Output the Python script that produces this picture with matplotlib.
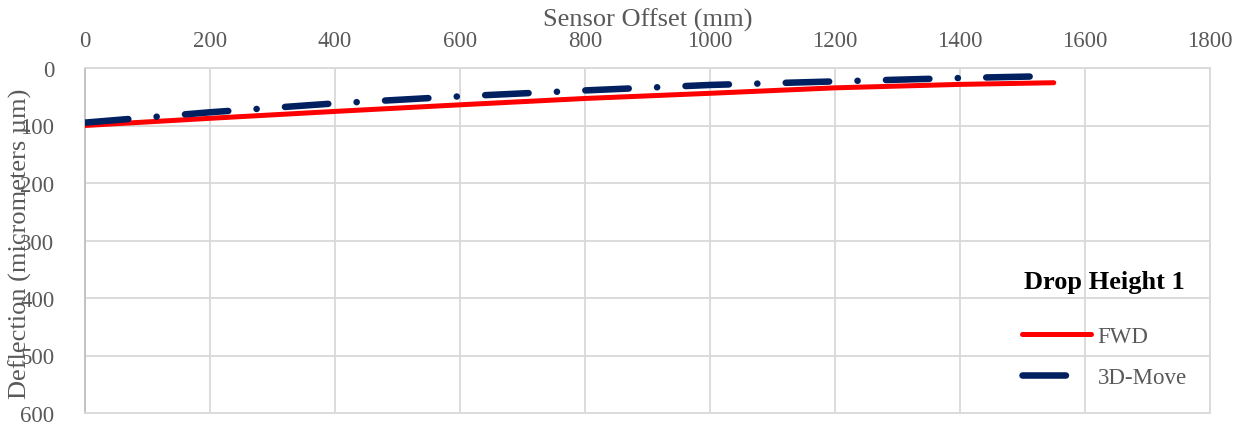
import matplotlib
matplotlib.use("Agg")
import matplotlib.pyplot as plt

# Sensor offsets (mm) and deflections (micrometers)
offsets = [0, 200, 400, 600, 800, 1000, 1200, 1400, 1550]
fwd = [100, 87.5, 75.5, 64, 53, 44, 34.5, 28.5, 25.6]
move3d = [95, 77, 61.5, 49.3, 39, 29.5, 23.3, 17.4, 14]

x_ticks = [0, 200, 400, 600, 800, 1000, 1200, 1400, 1600, 1800]
y_ticks = [0, 100, 200, 300, 400, 500, 600]

plt.rcParams['font.family'] = ['Liberation Serif', 'DejaVu Serif']
plt.rcParams['lines.scale_dashes'] = False

W, H = 1246, 427
fig = plt.figure(figsize=(W / 100, H / 100), dpi=100)
ax = fig.add_axes([85 / W, 1 - 414 / H, (1210 - 85) / W, (414 - 69) / H])

tick_color = '#595959'
grid_color = '#d9d9d9'

ax.plot(offsets, fwd, color='#ff0000', lw=3.6, solid_capstyle='round', label='FWD', zorder=3)
ax.plot(offsets, move3d, color='#002060', lw=4.7, dash_capstyle='round',
        linestyle=(0, (31.3, 20.4, 0.1, 20.4)), label='3D-Move', zorder=4)

ax.set_xlim(0, 1800)
ax.set_ylim(600, 0)
ax.set_xticks(x_ticks)
ax.set_yticks(y_ticks)
ax.xaxis.tick_top()
ax.xaxis.set_label_position('top')
ax.tick_params(axis='both', length=0, labelsize=16.5, colors=tick_color)
ax.tick_params(axis='x', pad=12)
ax.tick_params(axis='y', pad=22)
ax.grid(True, color=grid_color, lw=1.3)
ax.set_axisbelow(True)
for s in ax.spines.values():
    s.set_color(grid_color)
    s.set_linewidth(1.3)
ax.spines['left'].set_color('#bfbfbf')

ax.set_xlabel('Sensor Offset (mm)', fontsize=19, color=tick_color, labelpad=3.5)
fig.text(20 / W, 1 - 244 / H, 'Deflection (micrometers µm)', rotation=90,
         ha='center', va='center', fontsize=19, color=tick_color)

leg = ax.legend(loc='upper left', bbox_to_anchor=(1022 / W, 1 - 271 / H),
                bbox_transform=fig.transFigure, frameon=False,
                title='Drop Height 1', fontsize=16.5,
                title_fontproperties={'weight': 'bold', 'size': 19},
                handlelength=3.0, handletextpad=0.3, labelspacing=0.85,
                borderpad=0, borderaxespad=0)
leg._legend_box.sep = 24
for t in leg.get_texts():
    t.set_color(tick_color)

fig.savefig('out.png', dpi=100)
